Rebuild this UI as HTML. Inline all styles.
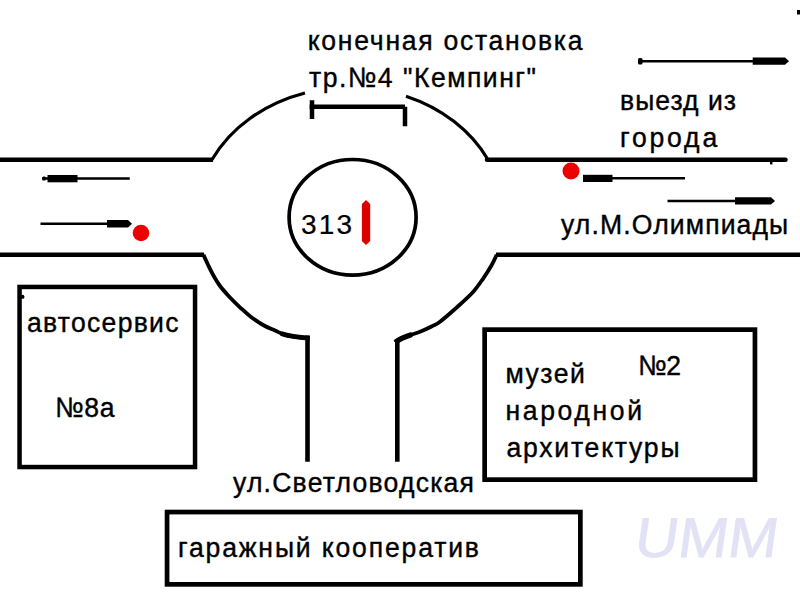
<!DOCTYPE html>
<html><head><meta charset="utf-8">
<style>
html,body{margin:0;padding:0;background:#fff;width:800px;height:600px;overflow:hidden}
svg{display:block}
text{font-family:"Liberation Sans",sans-serif;font-size:28px;fill:#000;stroke:#000;stroke-width:0.4px}
</style></head>
<body>
<svg width="800" height="600" viewBox="0 0 800 600">
<rect width="800" height="600" fill="#fff"/>
<!-- watermark -->
<g transform="translate(633,557) skewX(-8)"><text x="0" y="0" style="font-size:56px;font-weight:normal;fill:#e2e2f6;stroke:#e2e2f6;stroke-width:0.8px" textLength="143" lengthAdjust="spacingAndGlyphs">UMM</text></g>
<g fill="none" stroke="#000" stroke-linecap="butt">
  <!-- roads -->
  <line x1="0" y1="159.75" x2="213" y2="159.75" stroke-width="4.4"/>
  <line x1="0" y1="254.7" x2="204" y2="254.7" stroke-width="4.4"/>
  <line x1="487" y1="159.75" x2="785.5" y2="159.75" stroke-width="4.5" stroke-linecap="round"/>
  <line x1="771.2" y1="160" x2="771.2" y2="164.4" stroke-width="2.5"/>
  <line x1="496" y1="254.7" x2="800" y2="254.7" stroke-width="4.4"/>
  <!-- roundabout arcs -->
  <path d="M211.9 159.75 A153.7 129.2 0 0 1 305 92.96" stroke-width="3.2"/>
  <path d="M406 96.18 A153.7 129.2 0 0 1 488.08 159.75" stroke-width="3.2"/>
  <path d="M203.5 254.7 C204.2 256.4 206.4 261.3 208 264.7 C209.6 268.1 211.3 271.8 213.3 275.3 C215.3 278.9 217.3 282.4 220 286 C222.7 289.6 226.0 293.1 229.3 296.7 C232.6 300.2 236.4 304.0 240 307.3 C243.6 310.6 246.7 313.7 250.7 316.7 C254.7 319.7 259.9 323.2 264 325.5 C268.1 327.8 271.5 328.9 275 330.5 C278.5 332.1 281.6 333.8 284.75 334.8 C287.9 335.8 290.4 336.1 293.75 336.6 C297.1 337.1 302.4 337.6 305 337.8 C307.6 338.0 308.8 338.0 309.6 338" stroke-width="3.8"/>
  <path d="M281 333.5 C290 336.5 298 337.4 309.6 338.2" stroke-width="5"/>
  <path d="M395 342.3 C396.1 341.6 399.2 339.2 401.5 338 C403.8 336.8 406.1 336.2 409 335.3 C411.9 334.4 415.0 333.8 418.75 332.3 C422.5 330.8 428.0 328.3 431.5 326.5 C435.0 324.7 435.8 324.9 440 321.7 C444.2 318.5 451.1 312.5 456.7 307.5 C462.2 302.5 468.9 296.6 473.3 291.7 C477.7 286.8 480.2 282.8 483.3 278.3 C486.4 273.9 489.5 268.9 491.7 265 C493.9 261.1 495.9 256.4 496.7 254.7" stroke-width="3.8"/>
  <path d="M395 342.3 C399 339.5 404 337 412 334.5" stroke-width="5"/>
  <!-- south road -->
  <line x1="307.5" y1="335.5" x2="307.5" y2="461.75" stroke-width="4.6"/>
  <line x1="397.3" y1="339.5" x2="397.3" y2="461.75" stroke-width="4.6"/>
  <!-- inner circle -->
  <ellipse cx="352.6" cy="217.3" rx="63.5" ry="57.8" stroke-width="3.7"/>
  <!-- bus stop bracket -->
  <path d="M312 100.3 V119 M309.5 106.8 H405 M405 106.8 V126.3" stroke-width="4.5"/>
  <!-- boxes -->
  <rect x="19.55" y="286.95" width="175.5" height="180.1" stroke-width="4.5"/>
  <rect x="484.65" y="329.65" width="270.3" height="150" stroke-width="4.7"/>
  <rect x="167.05" y="512.05" width="413.3" height="72.3" stroke-width="4.7"/>
  <!-- arrows thin -->
  <line x1="42.7" y1="178.6" x2="129.75" y2="178.6" stroke-width="2.5"/>
  <line x1="40.5" y1="223.7" x2="128" y2="223.7" stroke-width="2.5"/>
  <line x1="590" y1="178.3" x2="685" y2="178.3" stroke-width="2.5"/>
  <line x1="667.5" y1="200.9" x2="740" y2="200.9" stroke-width="2.5"/>
  <line x1="638" y1="61.2" x2="760" y2="61.2" stroke-width="2.5"/>
</g>
<g fill="#000">
  <rect x="47.5" y="175" width="30" height="7.3"/>
  <polygon points="107,219.9 128,219.9 132,223.7 128,227.5 107,227.5"/>
  <rect x="583" y="174.8" width="29.5" height="7.2"/>
  <polygon points="735,197.3 771,197.3 775,200.9 771,204.6 735,204.6"/>
  <polygon points="752.7,57.6 785,57.6 789,61.2 785,64.8 752.7,64.8"/>
  <rect x="797" y="10" width="3" height="4.5"/>
  <rect x="638" y="58" width="4.5" height="6.5" rx="1.5"/>
  <rect x="42" y="176.6" width="4" height="4" rx="1.5"/>
  <rect x="21" y="294.7" width="3.3" height="4" rx="1.5"/>
</g>
<!-- red -->
<circle cx="141" cy="233" r="8.3" fill="#ee0000"/>
<circle cx="571" cy="171" r="8.5" fill="#ee0000"/>
<polygon points="366,200 370.2,204 370.2,241 366,245 361.9,241 361.9,204" fill="#dd0000"/>
<!-- texts -->
<g transform="translate(307.75,49.5) scale(0.95,1)"><text x="0" y="0" textLength="289.21" lengthAdjust="spacing">конечная остановка</text></g>
<g transform="translate(309.00,86.8) scale(0.95,1)"><text x="0" y="0" textLength="238.95" lengthAdjust="spacing">тр.№4 &quot;Кемпинг&quot;</text></g>
<g transform="translate(620.00,109.9) scale(0.95,1)"><text x="0" y="0" textLength="122.11" lengthAdjust="spacing">выезд из</text></g>
<g transform="translate(620.00,146.8) scale(0.95,1)"><text x="0" y="0" textLength="102.37" lengthAdjust="spacing">города</text></g>
<g transform="translate(561.00,234.0) scale(0.95,1)"><text x="0" y="0" textLength="239.21" lengthAdjust="spacing">ул.М.Олимпиады</text></g>
<g transform="translate(301.00,234.0) scale(1.0,1)"><text x="0" y="0" textLength="51.00" lengthAdjust="spacing" style="stroke-width:0.2px">313</text></g>
<g transform="translate(27.00,332.0) scale(0.95,1)"><text x="0" y="0" textLength="159.47" lengthAdjust="spacing">автосервис</text></g>
<g transform="translate(55.00,417) scale(0.95,1)"><text x="0" y="0" textLength="62.63" lengthAdjust="spacing">№8а</text></g>
<g transform="translate(505.50,382.5) scale(0.95,1)"><text x="0" y="0" textLength="83.42" lengthAdjust="spacing">музей</text></g>
<g transform="translate(638.00,374.5) scale(0.95,1)"><text x="0" y="0" textLength="45.26" lengthAdjust="spacing">№2</text></g>
<g transform="translate(505.50,420.1) scale(0.95,1)"><text x="0" y="0" textLength="143.68" lengthAdjust="spacing">народной</text></g>
<g transform="translate(506.50,456.8) scale(0.95,1)"><text x="0" y="0" textLength="182.11" lengthAdjust="spacing">архитектуры</text></g>
<g transform="translate(233.00,492) scale(0.95,1)"><text x="0" y="0" textLength="253.68" lengthAdjust="spacing">ул.Светловодская</text></g>
<g transform="translate(178.00,557) scale(0.95,1)"><text x="0" y="0" textLength="316.84" lengthAdjust="spacing">гаражный кооператив</text></g>
</svg>
</body></html>
